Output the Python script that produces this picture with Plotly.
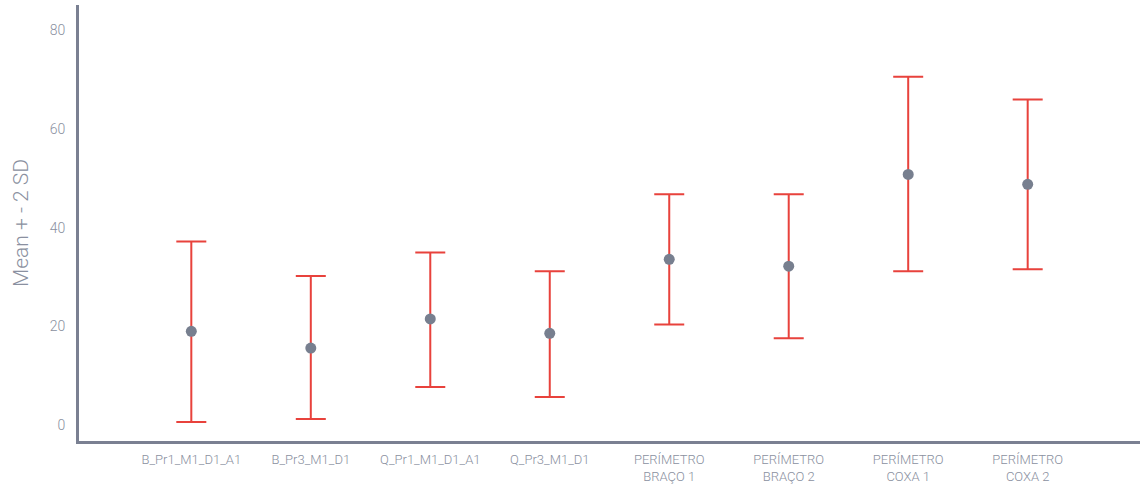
import plotly.graph_objects as go

categories = ["B_Pr1_M1_D1_A1", "B_Pr3_M1_D1", "Q_Pr1_M1_D1_A1", "Q_Pr3_M1_D1",
              "PERÍMETRO<br>BRAÇO 1", "PERÍMETRO<br>BRAÇO 2",
              "PERÍMETRO<br>COXA 1", "PERÍMETRO<br>COXA 2"]
mean_vals = [19.0, 15.6, 21.5, 18.6, 33.6, 32.2, 50.8, 48.8]
upper_vals = [37.2, 30.2, 35.0, 31.2, 46.8, 46.8, 70.6, 66.0]
lower_vals = [0.6, 1.2, 7.7, 5.7, 20.4, 17.6, 31.2, 31.6]
y_ticks = [0, 20, 40, 60, 80]

x_pos = list(range(len(categories)))
err_plus = [u - m for u, m in zip(upper_vals, mean_vals)]
err_minus = [m - l for m, l in zip(mean_vals, lower_vals)]

fig = go.Figure()
fig.add_trace(go.Scatter(
    x=x_pos, y=mean_vals, mode="markers",
    marker=dict(color="#777f8f", size=11),
    error_y=dict(type="data", symmetric=False, array=err_plus, arrayminus=err_minus,
                 color="#e8423c", thickness=2, width=15),
    showlegend=False,
))

axis_col = "#7a8092"
text_col = "#8a90a0"
fig.update_layout(
    width=1146, height=489,
    margin=dict(l=79, r=6, t=5, b=45),
    paper_bgcolor="white", plot_bgcolor="white",
    font=dict(family="Roboto", color=text_col),
    xaxis=dict(
        range=[-0.94, 7.94], tickmode="array", tickvals=x_pos, ticktext=categories,
        showgrid=False, zeroline=False, showline=True, linecolor=axis_col, linewidth=3,
        tickfont=dict(family="Roboto", size=13, color=text_col, weight=300),
        ticks="", ticklabelstandoff=4,
    ),
    yaxis=dict(
        range=[-3.24, 85.16], tickmode="array", tickvals=y_ticks,
        showgrid=False, zeroline=False, showline=True, linecolor=axis_col, linewidth=3,
        tickfont=dict(family="Roboto", size=14, color=text_col, weight=300), ticks="",
        ticklabelstandoff=8,
        title=dict(text="Mean + - 2 SD",
                   font=dict(family="Roboto", size=21, color=text_col, weight=300),
                   standoff=16),
    ),
)

fig.write_html("out.html")
